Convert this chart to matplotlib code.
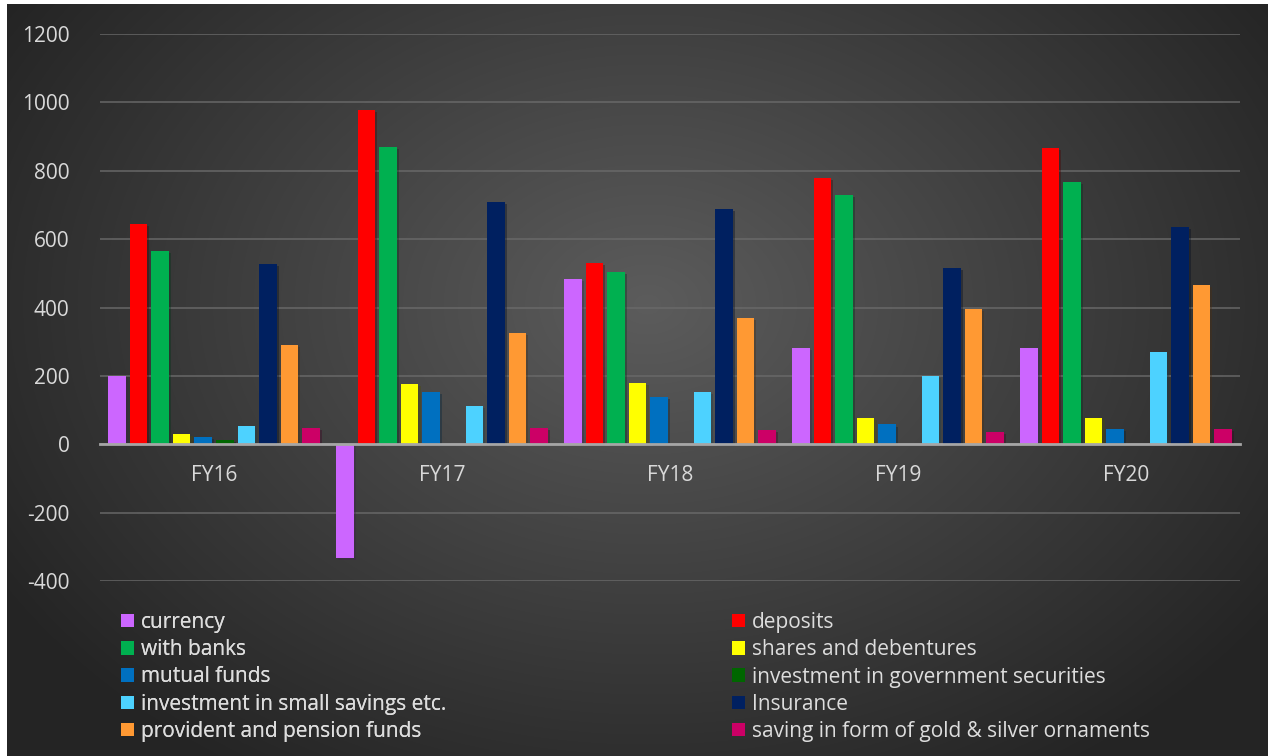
import numpy as np
import matplotlib
matplotlib.use("Agg")
from matplotlib import pyplot as plt
from matplotlib.patches import Patch
from matplotlib import patheffects as pe

plt.rcParams['font.family'] = ['Open Sans', 'DejaVu Sans']
plt.rcParams['axes.unicode_minus'] = False

years = ['FY16', 'FY17', 'FY18', 'FY19', 'FY20']
series = ['currency', 'deposits', 'with banks', 'shares and debentures',
          'mutual funds', 'investment in government securities',
          'investment in small savings etc.', 'Insurance',
          'provident and pension funds',
          'saving in form of gold & silver ornaments']

currency = [200, -333, 483, 281, 281]
deposits = [644, 978, 530, 779, 866]
with_banks = [565, 869, 503, 729, 767]
shares = [29, 176, 178, 78, 78]
mutual_funds = [20, 152, 137, 58, 44]
govt_securities = [12, 1, 0, 0, 1]
small_savings = [54, 111, 153, 199, 269]
insurance = [527, 708, 688, 515, 635]
provident = [291, 325, 369, 395, 465]
gold = [47, 47, 42, 36, 44]

values = [currency, deposits, with_banks, shares, mutual_funds,
          govt_securities, small_savings, insurance, provident, gold]
colors = ['#CC66FF', '#FF0000', '#00B050', '#FFFF00', '#0070C0',
          '#006600', '#4DD2FF', '#002060', '#FF9933', '#CC0066']

W, H = 1274, 756
fig = plt.figure(figsize=(W / 100, H / 100), dpi=100, facecolor='white')

# dark radial backdrop
bg = fig.add_axes([7 / W, 0, 1261 / W, 752 / H])
bg.set_axis_off()
yy, xx = np.mgrid[0:752, 0:1261]
d = np.sqrt(((xx - 640) / 760.0) ** 2 + ((yy - 300) / 560.0) ** 2)
shade = np.clip(0x5c - (0x5c - 0x24) * d, 0x24, 0x5c) / 255.0
bg.imshow(np.dstack([shade, shade, shade]), aspect='auto',
          extent=[0, 1, 0, 1], origin='upper')
bg.set_xlim(0, 1)
bg.set_ylim(0, 1)

ax = fig.add_axes([100 / W, 1 - 581 / H, 1140 / W, 547 / H])
ax.patch.set_alpha(0)

x = np.arange(len(years))
slot = 0.0945
width = 0.077
shadow = [pe.SimplePatchShadow(offset=(1.5, -1.5), alpha=0.35), pe.Normal()]
for i, (vals, c) in enumerate(zip(values, colors)):
    bars = ax.bar(x + (i - 4.5) * slot, vals, width, color=c, zorder=3,
                  label=series[i])
    for b in bars:
        b.set_path_effects(shadow)

ax.set_xlim(-0.5, 4.5)
ax.set_ylim(-400, 1200)
ax.set_yticks(np.arange(-400, 1201, 200))
ax.grid(axis='y', color='#6a6a6a', linewidth=1.3, alpha=0.8, zorder=0)
ax.set_axisbelow(True)
for s in ['top', 'right', 'left']:
    ax.spines[s].set_visible(False)
ax.spines['bottom'].set_position(('data', 0))
ax.spines['bottom'].set_color('#a6a6a6')
ax.spines['bottom'].set_linewidth(2)
ax.spines['bottom'].set_zorder(4)
ax.set_xticks(x)
ax.set_xticklabels(years)
ax.tick_params(axis='x', length=0, pad=15, labelsize=15, labelcolor='#d9d9d9')
ax.tick_params(axis='y', length=0, pad=22, labelsize=15, labelcolor='#d9d9d9')

handles = [Patch(facecolor=c, edgecolor='none') for c in colors]
leg_kw = dict(frameon=False, fontsize=15, labelcolor='#dddddd',
              handlelength=0.62, handleheight=0.62, handletextpad=0.33,
              labelspacing=0.3, borderaxespad=0, borderpad=0)
left = fig.legend(handles[0::2], series[0::2], loc='upper left',
                  bbox_to_anchor=(121 / W, 1 - 612 / H), **leg_kw)
fig.add_artist(left)
fig.legend(handles[1::2], series[1::2], loc='upper left',
           bbox_to_anchor=(732 / W, 1 - 612 / H), **leg_kw)

fig.savefig('out.png', dpi=100, facecolor=fig.get_facecolor())
